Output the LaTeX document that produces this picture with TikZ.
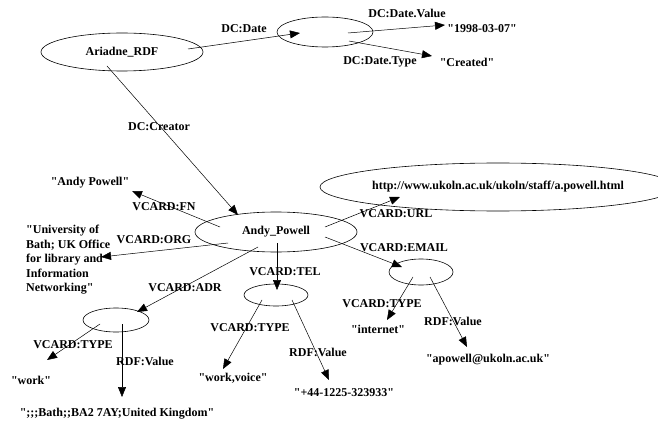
\documentclass[tikz,border=0pt]{standalone}
\usepackage{fontspec}
\setmainfont{Liberation Serif}
\usetikzlibrary{shapes.geometric,arrows.meta}
\newcommand{\qq}{\textquotedbl}
\begin{document}
\begin{tikzpicture}[x=1pt,y=-1pt,
  every node/.style={font=\fontsize{12}{14.5}\selectfont\bfseries, inner sep=0pt},
  ell/.style={draw, ellipse, line width=0.6pt, inner sep=0pt},
  arr/.style={line width=0.5pt, -{Triangle[length=10pt,width=8pt]}}]
\useasboundingbox (0,0) rectangle (658,422);
% nodes
\node[ell, minimum width=162, minimum height=38] (ariadne) at (122,52) {Ariadne\_RDF};
\node[ell, minimum width=96, minimum height=30] (date) at (325,32) {};
\node (v1998) at (482,29) {\qq1998-03-07\qq};
\node (created) at (467,62) {\qq Created\qq};
\node[ell, minimum width=162, minimum height=40] (andy) at (276,232) {Andy\_Powell};
\node (fn) at (90,183) {\qq Andy Powell\qq};
\node[align=left, anchor=west] (org) at (26,260) {\qq University of\\Bath; UK Office\\for library and\\Information\\Networking\qq};
\node[ell, minimum width=314, minimum height=48] (url) at (498,187) {http://www.ukoln.ac.uk/ukoln/staff/a.powell.html};
\node[ell, minimum width=64, minimum height=26] (email) at (421,272) {};
\node[ell, minimum width=64, minimum height=22] (tel) at (276,295) {};
\node[ell, minimum width=66, minimum height=24] (adr) at (116,320) {};
\node (work) at (31,380) {\qq work\qq};
\node (adrval) at (117,414) {\qq;;;Bath;;BA2 7AY;United Kingdom\qq};
\node (workvoice) at (233,378) {\qq work,voice\qq};
\node (telval) at (344,393) {\qq+44-1225-323933\qq};
\node (internet) at (378,329) {\qq internet\qq};
\node (emailval) at (488,360) {\qq apowell@ukoln.ac.uk\qq};
% connectors
\draw[arr] ([shift={(66,-3)}]ariadne.center) -- ([shift={(-25,1)}]date.center);
\draw[arr] ([shift={(23,1)}]date.center) -- ([shift={(-37,-4)}]v1998.center);
\draw[arr] ([shift={(24,9)}]date.center) -- ([shift={(-35,-6)}]created.center);
\draw[arr] ([shift={(-15,14)}]ariadne.center) -- ([shift={(-38,-17)}]andy.center);
\draw[arr] ([shift={(-56,-5)}]andy.center) -- ([shift={(42,8)}]fn.center);
\draw[arr] ([shift={(-48,11)}]andy.center) -- ([shift={(75,-3)}]org.west);
\draw[arr] ([shift={(49,-5)}]andy.center) -- ([shift={(-98,10)}]url.center);
\draw[arr] ([shift={(49,5)}]andy.center) -- ([shift={(-19,-5)}]email.center);
\draw[arr] ([shift={(1,11)}]andy.center) -- ([shift={(1,-5)}]tel.center);
\draw[arr] ([shift={(-18,15)}]andy.center) -- ([shift={(21,-8)}]adr.center);
\draw[arr] ([shift={(-16,4)}]adr.center) -- ([shift={(16,-20)}]work.center);
\draw[arr] ([shift={(6,4)}]adr.center) -- ([shift={(5,-17)}]adrval.center);
\draw[arr] ([shift={(-14,5)}]tel.center) -- ([shift={(-10,-9)}]workvoice.center);
\draw[arr] ([shift={(16,5)}]tel.center) -- ([shift={(-15,-13)}]telval.center);
\draw[arr] ([shift={(-8,5)}]email.center) -- ([shift={(9,-9)}]internet.center);
\draw[arr] ([shift={(9,5)}]email.center) -- ([shift={(-21,-13)}]emailval.center);
% labels
\node (l1) at (244,29) {DC:Date};
\node (l2) at (407,13) {DC:Date.Value};
\node (l3) at (380,62) {DC:Date.Type};
\node (l4) at (159,127) {DC:Creator};
\node (l5) at (164,207) {VCARD:FN};
\node (l6) at (154,240) {VCARD:ORG};
\node (l7) at (396,214) {VCARD:URL};
\node (l8) at (404,248) {VCARD:EMAIL};
\node (l9) at (285,272) {VCARD:TEL};
\node (l10) at (185,288) {VCARD:ADR};
\node (l11) at (73,345) {VCARD:TYPE};
\node (l12) at (145,361) {RDF:Value};
\node (l13) at (250,328) {VCARD:TYPE};
\node (l14) at (318,352) {RDF:Value};
\node (l15) at (382,304) {VCARD:TYPE};
\node (l16) at (453,321) {RDF:Value};
\end{tikzpicture}
\end{document}
